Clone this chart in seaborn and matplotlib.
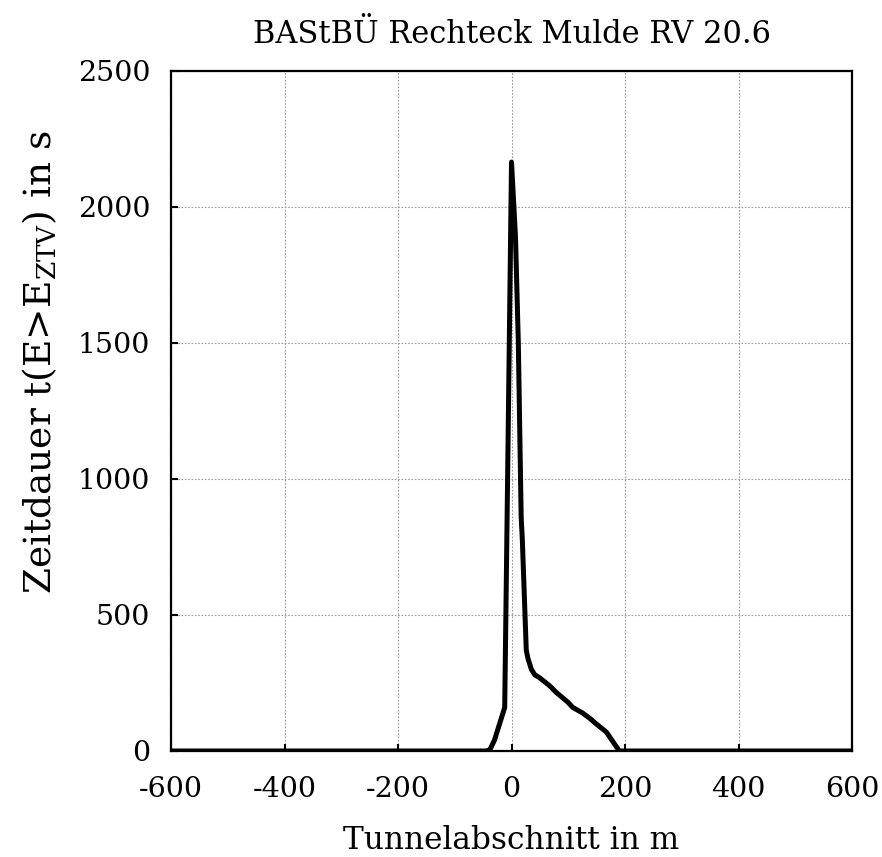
import matplotlib
matplotlib.use("Agg")
import matplotlib.pyplot as plt
import seaborn as sns
import pandas as pd

# Data
x_m = [-600, -45, -38, -30, -21, -12, -6, 0, 7, 12, 17, 19, 26, 29, 35, 41, 49,
       55, 67, 79, 99, 108, 125, 138, 149, 167, 185, 190, 600]
t_s = [0, 0, 5, 40, 100, 160, 1150, 2165, 1890, 1500, 860, 780, 370, 340, 300, 280, 270,
       260, 240, 215, 180, 160, 140, 120, 100, 70, 15, 0, 0]

title = "BAStBÜ Rechteck Mulde RV 20.6"
xlabel = "Tunnelabschnitt in m"
ylabel = r"Zeitdauer t(E>E$_{\mathrm{ZTV}}$) in s"
xticks = [-600, -400, -200, 0, 200, 400, 600]
yticks = [0, 500, 1000, 1500, 2000, 2500]

sns.set_style("ticks")
plt.rcParams["font.family"] = ["DejaVu Serif"]
plt.rcParams["mathtext.fontset"] = "dejavuserif"
plt.rcParams["text.color"] = "black"
plt.rcParams["axes.labelcolor"] = "black"
plt.rcParams["xtick.color"] = "black"
plt.rcParams["ytick.color"] = "black"

df = pd.DataFrame({"x": x_m, "t": t_s})

fig = plt.figure(figsize=(8.82, 8.57), dpi=100)
ax = fig.add_axes([0.1939, 0.1237, 0.7721, 0.7935])
sns.lineplot(data=df, x="x", y="t", sort=False, color="black", linewidth=3.6, ax=ax,
             estimator=None)

ax.set_xlim(-600, 600)
ax.set_ylim(0, 2500)
ax.set_xticks(xticks)
ax.set_yticks(yticks)
ax.set_xticklabels([str(v) for v in xticks])
ax.set_yticklabels([str(v) for v in yticks])
ax.grid(True, linestyle=(0, (1.5, 1.5)), color="#999999", linewidth=0.8)
ax.tick_params(direction="in", length=5, width=1.5, labelsize=20.5, pad=15,
               top=False, right=False, colors="black")
ax.tick_params(axis="x", pad=18)
for s in ax.spines.values():
    s.set_linewidth(1.6)
    s.set_color("black")
    s.set_visible(True)
ax.set_title(title, fontsize=22, pad=20, color="black")
ax.set_xlabel(xlabel, fontsize=22.5, labelpad=16)
ax.set_ylabel(ylabel, fontsize=27)
ax.yaxis.set_label_coords(-0.164, 0.572)

fig.savefig("out.png", dpi=100)
